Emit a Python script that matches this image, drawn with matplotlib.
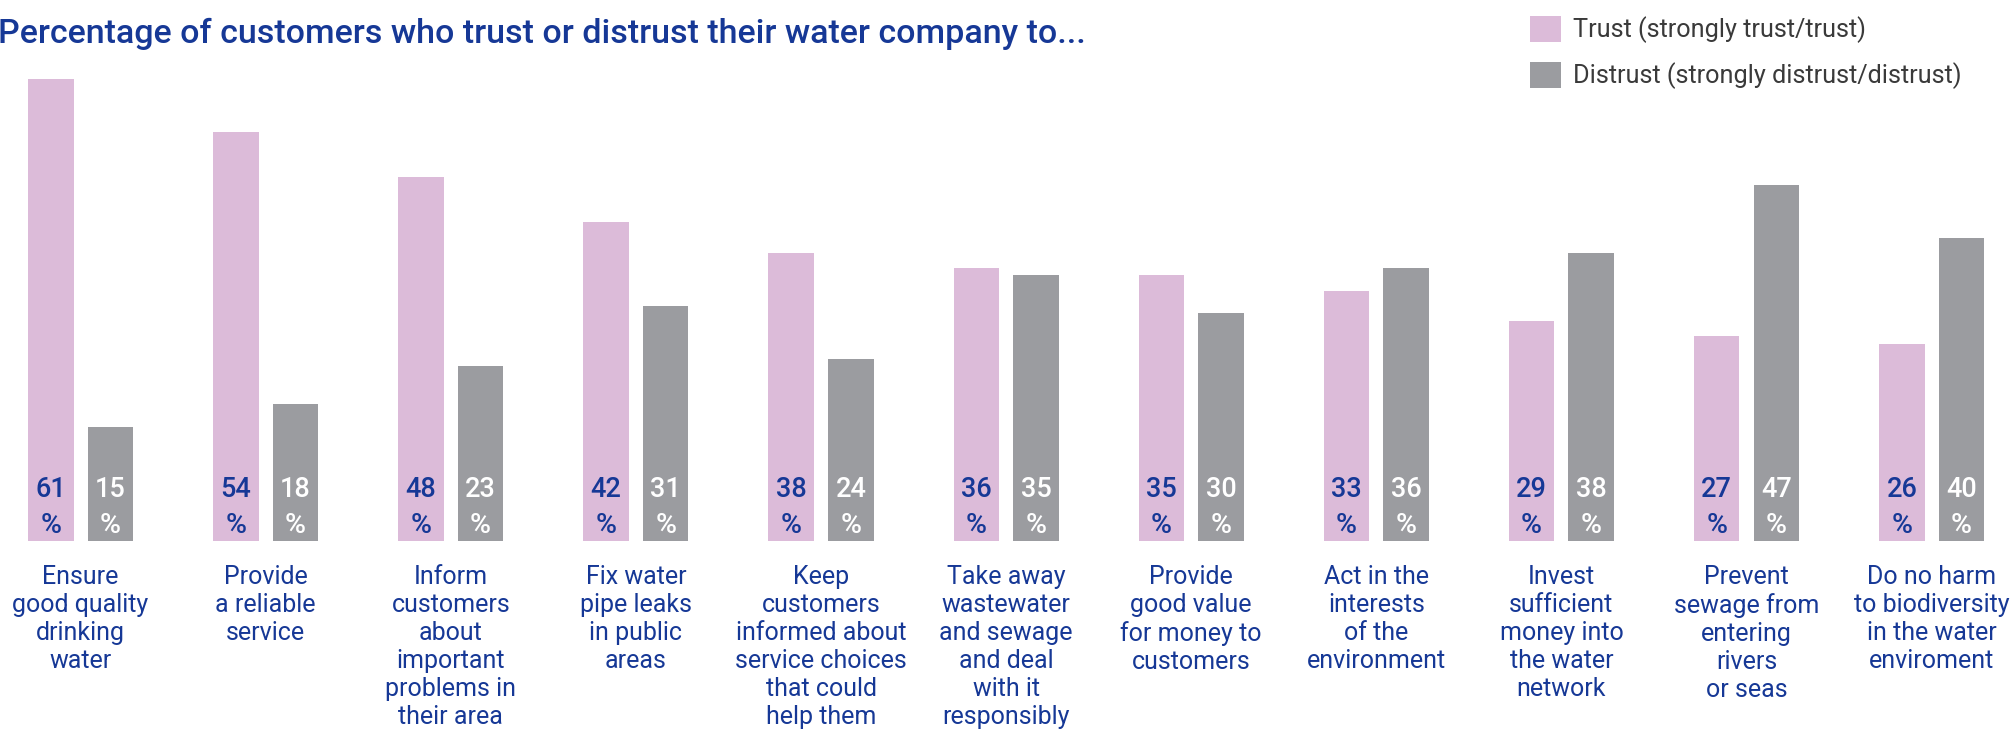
import numpy as np
import matplotlib
matplotlib.use("Agg")
import matplotlib.pyplot as plt

# Survey results: share of customers (%) who trust / distrust their water company
categories = [
    "Ensure\ngood quality\ndrinking\nwater",
    "Provide\na reliable\nservice",
    "Inform\ncustomers\nabout\nimportant\nproblems in\ntheir area",
    "Fix water\npipe leaks\nin public\nareas",
    "Keep\ncustomers\ninformed about\nservice choices\nthat could\nhelp them",
    "Take away\nwastewater\nand sewage\nand deal\nwith it\nresponsibly",
    "Provide\ngood value\nfor money to\ncustomers",
    "Act in the\ninterests\nof the\nenvironment",
    "Invest\nsufficient\nmoney into\nthe water\nnetwork",
    "Prevent\nsewage from\nentering\nrivers\nor seas",
    "Do no harm\nto biodiversity\nin the water\nenviroment",
]
trust = [61, 54, 48, 42, 38, 36, 35, 33, 29, 27, 26]
distrust = [15, 18, 23, 31, 24, 35, 30, 36, 38, 47, 40]
series_labels = ["Trust (strongly trust/trust)", "Distrust (strongly distrust/distrust)"]
title = "Percentage of customers who trust or distrust their water company to..."

PINK = "#dcbbd9"
GRAY = "#9b9ca0"
BLUE = "#163896"
TEXT_GRAY = "#3a3a3a"
FONT = "Roboto"

plt.rcParams["font.family"] = [FONT, "DejaVu Sans"]

fig = plt.figure(figsize=(20.14, 7.30), dpi=100)
ax = fig.add_axes([0, 0.2595, 1, 0.7405])
ax.set_xlim(-0.4355, 10.445)
ax.set_ylim(0, 71.37)
ax.axis("off")

x = np.arange(len(categories))
width = 0.246
offset = 0.161

b1 = ax.bar(x - offset, trust, width, color=PINK, label=series_labels[0])
b2 = ax.bar(x + offset, distrust, width, color=GRAY, label=series_labels[1])


def px(v):
    """pixels -> points"""
    return v * 72 / fig.dpi


# value labels stacked as "NN" over "%" at the foot of each bar
for xs, vals, col in ((x - offset, trust, BLUE), (x + offset, distrust, "white")):
    for xi, v in zip(xs, vals):
        ax.annotate(f"{v}", xy=(xi, 0), xytext=(0, px(51)), textcoords="offset points",
                    ha="center", va="center", fontsize=19.5, color=col, fontweight="medium")
        ax.annotate("%", xy=(xi, 0), xytext=(0, px(15)), textcoords="offset points",
                    ha="center", va="center", fontsize=20.5, color=col, fontweight="medium")

# category captions under each pair of bars
for xi, cat in zip(x, categories):
    ax.annotate(cat, xy=(xi, 0), xytext=(0, -px(24)), textcoords="offset points",
                ha="center", va="top", fontsize=18, color=BLUE,
                linespacing=1.22, multialignment="center")

fig.text(-2 / 2014, 1 - 43 / 730, title, ha="left", va="baseline",
         fontsize=24.5, fontweight="medium", color=BLUE)

leg = fig.legend(handles=[b1, b2], labels=series_labels, loc="upper left",
                 bbox_to_anchor=(1512 / 2014, 1 + 2 / 730), frameon=False,
                 fontsize=18.2, handlelength=1.24, handleheight=1.24,
                 handletextpad=0.48, labelspacing=0.72, borderpad=0.2)
for t in leg.get_texts():
    t.set_color(TEXT_GRAY)

fig.savefig("out.png", dpi=100, facecolor="white")
